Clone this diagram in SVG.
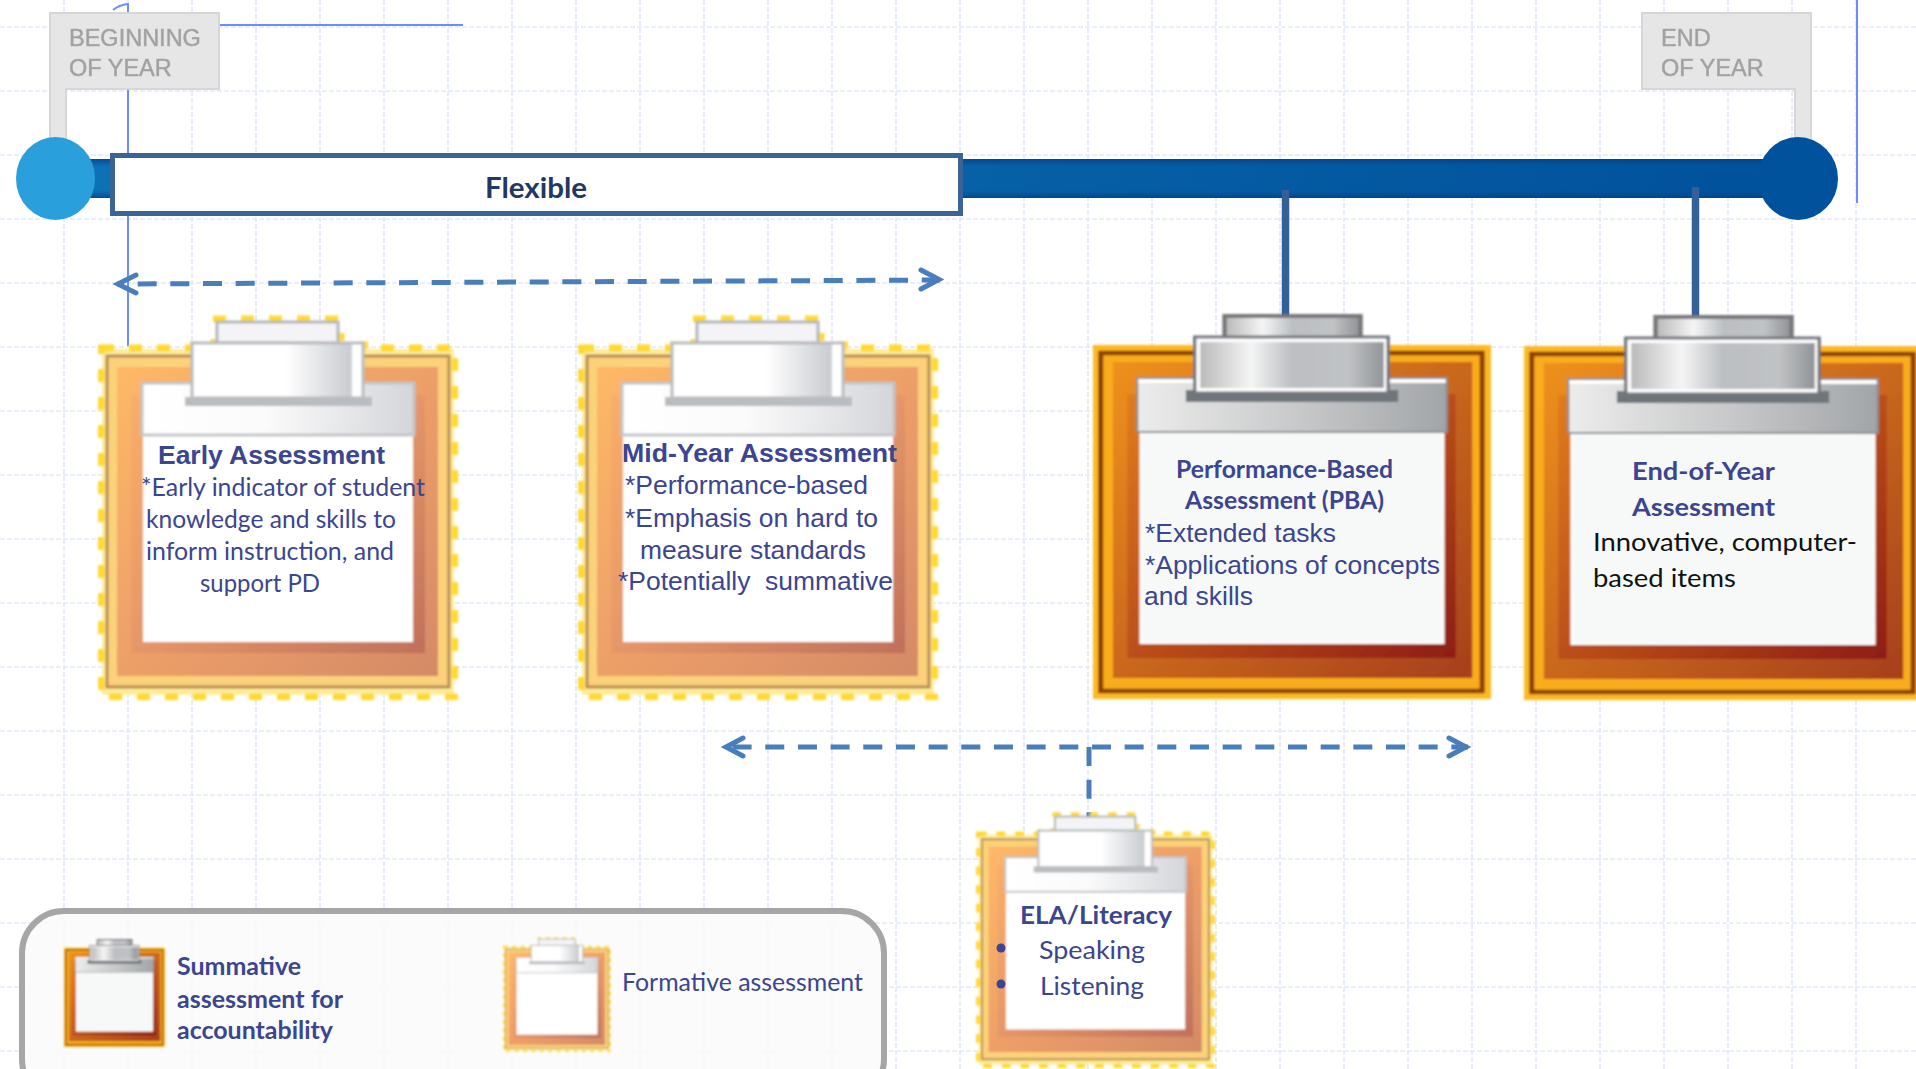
<svg xmlns="http://www.w3.org/2000/svg" width="1916" height="1069" viewBox="0 0 1916 1069">
<style>
.grid{stroke:#e2e8fb;stroke-width:1.6;stroke-dasharray:5 2;fill:none}
.thin{stroke:#6f8cff;stroke-width:2;fill:none}
.stem{stroke:#336097;stroke-width:7.5;fill:none}
.dash{stroke:#4a7ebb;stroke-width:5;fill:none;stroke-dasharray:19 13.67}
.head{stroke:#4a7ebb;stroke-width:5;fill:none;stroke-linecap:round;stroke-linejoin:miter}
.flag{fill:#e6e6e6;stroke:#d6d6d6;stroke-width:2}
.flagt{font-family:"Liberation Sans",Arial,sans-serif;font-size:23.500px;fill:#a0a0a0;stroke:#a8a8a8;stroke-width:.5;filter:url(#soft)}
.t{fill:#3b4590}
.lb{font-family:"Liberation Sans",Arial,sans-serif;font-weight:700;font-size:26.4px}
.l{font-family:"Liberation Sans",Arial,sans-serif;font-size:26px}
.cb{font-family:Lato,"Open Sans",sans-serif;font-weight:700;font-size:25px}
.c{font-family:Lato,"Open Sans",sans-serif;font-size:25px}
</style>
<defs>
<filter id="soft" x="-5%" y="-20%" width="110%" height="140%"><feGaussianBlur stdDeviation="0.6"/></filter>
<filter id="board" x="-2%" y="-2%" width="104%" height="104%"><feGaussianBlur stdDeviation="0.9"/></filter>
<filter id="boardS" x="-3%" y="-3%" width="106%" height="106%"><feGaussianBlur stdDeviation="1"/></filter>
<linearGradient id="barH" x1="0" x2="1" y1="0" y2="0"><stop offset="0" stop-color="#1078bb"/><stop offset=".4" stop-color="#0a69ad"/><stop offset="1" stop-color="#00519c"/></linearGradient>
<linearGradient id="barV" x1="0" x2="0" y1="0" y2="1"><stop offset="0" stop-color="#003f88" stop-opacity=".8"/><stop offset=".2" stop-color="#004f98" stop-opacity=".15"/><stop offset=".8" stop-color="#004f98" stop-opacity=".15"/><stop offset="1" stop-color="#003f88" stop-opacity=".8"/></linearGradient>
<linearGradient id="fOr" x1="0" y1="0" x2="1" y2="1"><stop offset="0" stop-color="#ffb866"/><stop offset=".55" stop-color="#eb9d68"/><stop offset="1" stop-color="#d48a66"/></linearGradient>
<linearGradient id="fIn" x1="0" y1="0" x2="1" y2="1"><stop offset="0" stop-color="#f9ae6a"/><stop offset=".5" stop-color="#e59768"/><stop offset="1" stop-color="#c0705a"/></linearGradient>
<linearGradient id="fHd" x1="0" x2="1" y1="0" y2="0"><stop offset="0" stop-color="#fff"/><stop offset=".45" stop-color="#fbfbfb"/><stop offset="1" stop-color="#d5d6da"/></linearGradient>
<linearGradient id="fCl" x1="0" x2="1" y1="0" y2="0"><stop offset="0" stop-color="#fff"/><stop offset=".55" stop-color="#fff"/><stop offset=".93" stop-color="#c9ccd0"/><stop offset=".94" stop-color="#fff"/></linearGradient>
<linearGradient id="sOr" x1="0" y1="0" x2="1" y2="1"><stop offset="0" stop-color="#ee911c"/><stop offset=".5" stop-color="#c9681e"/><stop offset="1" stop-color="#a63f1e"/></linearGradient>
<linearGradient id="sIn" x1="0" y1="0" x2="1" y2="1"><stop offset="0" stop-color="#e07c1a"/><stop offset=".5" stop-color="#bb4f1a"/><stop offset="1" stop-color="#8e1d12"/></linearGradient>
<linearGradient id="sHd" x1="0" x2="1" y1="0" y2="0"><stop offset="0" stop-color="#ececec"/><stop offset=".5" stop-color="#c9cacb"/><stop offset="1" stop-color="#a2a5a8"/></linearGradient>
<linearGradient id="sCl" x1="0" x2="1" y1="0" y2="0"><stop offset="0" stop-color="#b8b8b8"/><stop offset=".28" stop-color="#f5f5f5"/><stop offset=".5" stop-color="#bcbfc2"/><stop offset=".8" stop-color="#c0c2c4"/><stop offset="1" stop-color="#8e9295"/></linearGradient>
<symbol id="formative" viewBox="0 0 360 385" preserveAspectRatio="none">
<rect x="4" y="34" width="352" height="346" fill="#ffec9a"/>
<rect x="3" y="33" width="354" height="349" fill="none" stroke="#ffd92e" stroke-width="7" stroke-dasharray="13 15"/>
<path d="M115 4H242M92 30H100M260 30H270M116 24V28M243 18V26" fill="none" stroke="#ffd92e" stroke-width="7" stroke-dasharray="13 15"/>
<rect x="9" y="41" width="342" height="331" fill="#fbd27a" stroke="#b98a56" stroke-width="3"/>
<rect x="19" y="52" width="321" height="309" fill="url(#fOr)"/>
<rect x="33" y="80" width="294" height="258" fill="url(#fIn)"/>
<rect x="45" y="118" width="270" height="209" fill="#fff"/>
<rect x="44" y="68" width="272" height="52" fill="url(#fHd)" stroke="#c2c4c7" stroke-width="3"/>
<rect x="87" y="82" width="187" height="9" fill="#b9bcc0"/>
<rect x="119" y="7" width="121" height="21" fill="#f4f4f6" stroke="#b4b6bc" stroke-width="3"/>
<rect x="94" y="28" width="171" height="55" fill="url(#fCl)" stroke="#b9bbbf" stroke-width="3"/>
</symbol>
<symbol id="summative" viewBox="0 0 360 385" preserveAspectRatio="none">
<rect x="0" y="31" width="360" height="354" fill="#fdb924"/>
<rect x="7" y="39" width="345" height="338" fill="#f9ad1f" stroke="#8c3f06" stroke-width="4.500"/>
<rect x="18" y="48" width="325" height="316" fill="url(#sOr)"/>
<rect x="31" y="80" width="297" height="264" fill="url(#sIn)"/>
<rect x="43" y="116" width="274" height="213" fill="#f6f9f8" stroke="#fff" stroke-width="2"/>
<rect x="40" y="64" width="280" height="54" fill="url(#sHd)" stroke="#8a8d90" stroke-width="2"/>
<rect x="41" y="65" width="278" height="4" fill="#fff"/>
<rect x="84" y="76" width="192" height="12" fill="#6e767c"/>
<rect x="119" y="2" width="123" height="22" fill="url(#sCl)" stroke="#77777c" stroke-width="4"/>
<rect x="95" y="26" width="170" height="50" fill="url(#sCl)" stroke="#fff" stroke-width="4"/>
<rect x="92" y="23" width="175" height="56" fill="none" stroke="#72767c" stroke-width="3"/>
</symbol>
</defs>

<rect width="1916" height="1069" fill="#fff"/>
<g id="grid" class="grid">
<path d="M0 27H1916M0 91H1916M0 155H1916M0 219H1916M0 283H1916M0 347H1916M0 411H1916M0 475H1916M0 539H1916M0 603H1916M0 667H1916M0 731H1916M0 795H1916M0 859H1916M0 923H1916M0 987H1916M0 1051H1916"/>
<path d="M64 0V1069M128 0V1069M192 0V1069M256 0V1069M320 0V1069M384 0V1069M448 0V1069M512 0V1069M576 0V1069M640 0V1069M704 0V1069M768 0V1069M832 0V1069M896 0V1069M960 0V1069M1024 0V1069M1088 0V1069M1152 0V1069M1216 0V1069M1280 0V1069M1344 0V1069M1408 0V1069M1472 0V1069M1536 0V1069M1600 0V1069M1664 0V1069M1728 0V1069M1792 0V1069M1856 0V1069"/>
</g>
<g id="thin-lines" class="thin">
<path d="M220 25H463"/>
<path d="M113 10Q119 5 128 4V346"/>
<path d="M1857 0V203"/>
</g>

<g id="flag-begin">
<path class="flag" d="M50 13H219V89H66V142H50Z"/>
<text class="flagt" x="69" y="46">BEGINNING</text>
<text class="flagt" x="69" y="76">OF YEAR</text>
</g>
<g id="flag-end">
<path class="flag" d="M1642 13H1811V142H1795V89H1642Z"/>
<text class="flagt" x="1661" y="46">END</text>
<text class="flagt" x="1661" y="76">OF YEAR</text>
</g>

<g id="timeline">
<rect x="60" y="159" width="1740" height="39" fill="url(#barH)"/>
<rect x="60" y="159" width="1740" height="39" fill="url(#barV)"/>
<ellipse cx="55.500" cy="178.500" rx="39.500" ry="41.500" fill="#29a0dc"/>
<ellipse cx="1798" cy="178.500" rx="40" ry="41.500" fill="#00529c"/>
</g>
<g id="flexible">
<rect x="112.500" y="155.500" width="848" height="58" fill="#fff" stroke="#3a6496" stroke-width="5"/>
<text x="485" y="198" font-family="Lato,'Open Sans',sans-serif" font-weight="700" font-size="28" fill="#1f3864" textLength="102" lengthAdjust="spacingAndGlyphs">Flexible</text>
</g>

<g id="connectors">
<path class="stem" d="M1285.500 190V316"/>
<path class="stem" d="M1695.500 187V316"/>
<path class="dash" d="M117 284L940 280" stroke-dashoffset="12"/>
<path class="head" d="M136 275L118 284L136 293"/>
<path class="head" d="M921 270L939 279.500L921 289"/>
<path class="dash" d="M724 747H1468" stroke-dashoffset="24.070"/>
<path class="head" d="M743 738L726 747L743 756"/>
<path class="head" d="M1449 738L1466 747L1449 756"/>
<path class="dash" d="M1089 747V819"/>
</g>

<g id="early">
<use href="#formative" x="98" y="315" width="360" height="385" filter="url(#board)"/>
<text class="lb t" x="158" y="464" textLength="227" lengthAdjust="spacingAndGlyphs">Early Assessment</text>
<text class="c t" x="141" y="496" textLength="284" lengthAdjust="spacingAndGlyphs">*Early indicator of student</text>
<text class="c t" x="146" y="528" textLength="250" lengthAdjust="spacingAndGlyphs">knowledge and skills to</text>
<text class="c t" x="146" y="560" textLength="248" lengthAdjust="spacingAndGlyphs">inform instruction, and</text>
<text class="c t" x="200" y="592" textLength="120" lengthAdjust="spacingAndGlyphs">support PD</text>
</g>
<g id="midyear">
<use href="#formative" x="578" y="315" width="360" height="385" filter="url(#board)"/>
<text class="lb t" x="622" y="462" textLength="275" lengthAdjust="spacingAndGlyphs">Mid-Year Assessment</text>
<text class="l t" x="625" y="494" textLength="243" lengthAdjust="spacingAndGlyphs">*Performance-based</text>
<text class="l t" x="625" y="527" textLength="253" lengthAdjust="spacingAndGlyphs">*Emphasis on hard to</text>
<text class="l t" x="640" y="559" textLength="226" lengthAdjust="spacingAndGlyphs">measure standards</text>
<text class="l t" x="618" y="590" textLength="275" lengthAdjust="spacingAndGlyphs" xml:space="preserve">*Potentially  summative</text>
</g>
<g id="pba">
<use href="#summative" x="1093" y="314" width="398" height="385" filter="url(#board)"/>
<text class="cb t" x="1176" y="478" textLength="217" lengthAdjust="spacingAndGlyphs">Performance-Based</text>
<text class="cb t" x="1185" y="509" textLength="199" lengthAdjust="spacingAndGlyphs">Assessment (PBA)</text>
<text class="l t" x="1145" y="542" textLength="191" lengthAdjust="spacingAndGlyphs">*Extended tasks</text>
<text class="l t" x="1145" y="574" textLength="295" lengthAdjust="spacingAndGlyphs">*Applications of concepts</text>
<text class="l t" x="1144" y="605" textLength="109" lengthAdjust="spacingAndGlyphs">and skills</text>
</g>
<g id="eoy">
<use href="#summative" x="1524" y="315" width="398" height="385" filter="url(#board)"/>
<text class="cb t" x="1632" y="480" font-size="27" textLength="143" lengthAdjust="spacingAndGlyphs">End-of-Year</text>
<text class="cb t" x="1632" y="516" font-size="27" textLength="143" lengthAdjust="spacingAndGlyphs">Assessment</text>
<text class="c" fill="#111" x="1593" y="551" textLength="264" lengthAdjust="spacingAndGlyphs">Innovative, computer-</text>
<text class="c" fill="#111" x="1593" y="587" textLength="143" lengthAdjust="spacingAndGlyphs">based items</text>
</g>
<g id="ela">
<use href="#formative" x="976" y="812" width="239" height="256" filter="url(#board)"/>
<text class="cb t" x="1020" y="924" textLength="152" lengthAdjust="spacingAndGlyphs">ELA/Literacy</text>
<circle class="t" cx="1001" cy="948" r="4.500"/>
<circle class="t" cx="1001" cy="984" r="4.500"/>
<text class="c t" x="1039" y="959" textLength="106" lengthAdjust="spacingAndGlyphs">Speaking</text>
<text class="c t" x="1040" y="995" textLength="104" lengthAdjust="spacingAndGlyphs">Listening</text>
</g>
<g id="legend">
<rect x="22" y="911" width="862" height="190" rx="42" fill="#fafafa" fill-opacity=".85" stroke="#a6a6a6" stroke-width="6"/>
<use href="#summative" x="64" y="939" width="101" height="108" filter="url(#boardS)"/>
<use href="#formative" x="503" y="937" width="108" height="115" filter="url(#boardS)"/>
<text class="cb t" x="177" y="975" textLength="124" lengthAdjust="spacingAndGlyphs">Summative</text>
<text class="cb t" x="177" y="1008" textLength="166" lengthAdjust="spacingAndGlyphs">assessment for</text>
<text class="cb t" x="177" y="1039" textLength="156" lengthAdjust="spacingAndGlyphs">accountability</text>
<text class="c t" x="622" y="991" textLength="241" lengthAdjust="spacingAndGlyphs">Formative assessment</text>
</g>
</svg>
